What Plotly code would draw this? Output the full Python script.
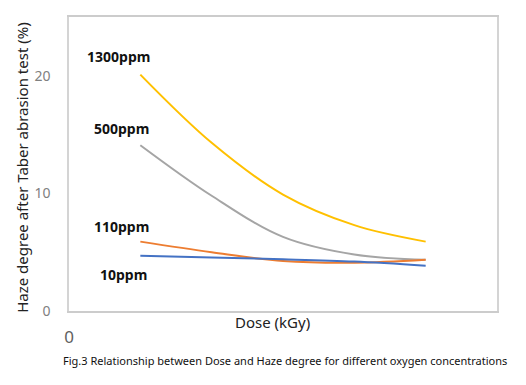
import plotly.graph_objects as go

dose = [1, 2, 3, 4, 5]
series_names = ["1300ppm", "500ppm", "110ppm", "10ppm"]
haze_1300 = [20.1, 14.3, 9.9, 7.3, 5.9]
haze_500 = [14.1, 9.8, 6.3, 4.8, 4.35]
haze_110 = [5.9, 5.0, 4.25, 4.1, 4.35]
haze_10 = [4.7, 4.55, 4.4, 4.2, 3.85]
colors = ["#FFC000", "#A5A5A5", "#ED7D31", "#4472C4"]
label_x = [0.69, 0.73, 0.73, 0.77]
label_y = [21.6, 15.5, 7.2, 3.1]
y_ticks = [0, 10, 20]
x_tick_labels = ["0"]
x_title = "Dose (kGy)"
y_title = "Haze degree after Taber abrasion test (%)"
caption = "Fig.3 Relationship between Dose and Haze degree for different oxygen concentrations"

fig = go.Figure()
for name, ys, c in zip(series_names, [haze_1300, haze_500, haze_110, haze_10], colors):
    fig.add_trace(go.Scatter(x=dose, y=ys, mode="lines", name=name,
                             line=dict(color=c, width=2, shape="spline", smoothing=1.0)))

for name, lx, ly in zip(series_names, label_x, label_y):
    fig.add_annotation(x=lx, y=ly, xref="x", yref="y", text="<b>" + name + "</b>",
                       showarrow=False, font=dict(family="Noto Sans", size=14, color="#111111"))

fig.add_annotation(x=0.476, y=-0.037, xref="paper", yref="paper", text=x_title, showarrow=False,
                   yanchor="middle", font=dict(family="Noto Sans", size=15, color="#222222"))
fig.add_annotation(x=-0.110, y=0.49, xref="paper", yref="paper", text=y_title, showarrow=False,
                   textangle=-90, xanchor="center", yanchor="middle",
                   font=dict(family="Noto Sans", size=15, color="#222222"))
fig.add_annotation(x=0.505, y=-0.167, xref="paper", yref="paper", text=caption, showarrow=False,
                   xanchor="center", yanchor="middle",
                   font=dict(family="Noto Sans", size=11, color="#111111"))

fig.update_layout(
    width=526, height=385,
    margin=dict(l=69, r=29, t=17, b=74, autoexpand=False),
    paper_bgcolor="white", plot_bgcolor="white",
    showlegend=False,
    xaxis=dict(range=[0, 6], tickvals=[0], ticktext=x_tick_labels, showgrid=False, zeroline=False,
               showline=True, linecolor="#cccccc", linewidth=1.5, mirror=True,
               ticks="", ticklabelstandoff=10, automargin=False,
               tickfont=dict(family="Noto Sans", size=17, color="#606060")),
    yaxis=dict(range=[0, 25], tickvals=y_ticks, showgrid=False, zeroline=False,
               showline=True, linecolor="#d4d4d4", linewidth=1.5, mirror=True,
               ticks="", ticklabelstandoff=14, automargin=False,
               tickfont=dict(family="Noto Sans", size=14, color="#808080")),
)

fig.write_html("out.html", config={"displayModeBar": False},
               post_script="document.body.style.margin='0';document.body.style.overflow='hidden';")
